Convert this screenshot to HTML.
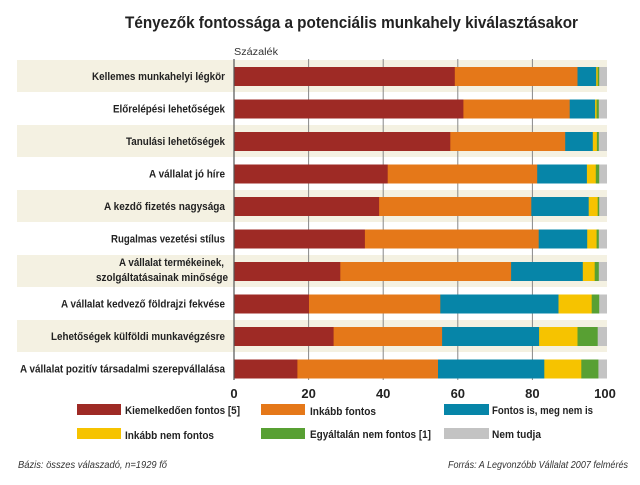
<!DOCTYPE html>
<html><head><meta charset="utf-8"><style>
body{margin:0;background:#fff}
text{font-family:"Liberation Sans",sans-serif}
</style></head><body>
<svg width="640" height="480" xmlns="http://www.w3.org/2000/svg">
<text x="125" y="28" textLength="453" lengthAdjust="spacingAndGlyphs" font-size="17" font-weight="bold" fill="#222">Tényezők fontossága a potenciális munkahely kiválasztásakor</text>
<text x="234" y="55" font-size="10" textLength="44" lengthAdjust="spacingAndGlyphs" fill="#333">Százalék</text>
<g fill="#f4f1e2">
<rect x="17" y="60" width="590" height="32"/>
<rect x="17" y="125" width="590" height="32"/>
<rect x="17" y="190" width="590" height="32"/>
<rect x="17" y="255" width="590" height="32"/>
<rect x="17" y="320" width="590" height="32"/>
</g>
<g stroke="#888" stroke-width="1">
<line x1="308.6" y1="59" x2="308.6" y2="380"/><line x1="383.2" y1="59" x2="383.2" y2="380"/><line x1="457.8" y1="59" x2="457.8" y2="380"/><line x1="532.4" y1="59" x2="532.4" y2="380"/>
</g>
<g id="bars">
<g transform="translate(234,67)"><rect width="373" height="19" fill="#c3c3c3"/><rect width="365.2" height="19" fill="#58a033"/><rect width="363.7" height="19" fill="#f6c300"/><rect width="362.2" height="19" fill="#0685a8"/><rect width="343.5" height="19" fill="#e57819"/><rect width="220.8" height="19" fill="#9e2a25"/></g>
<g transform="translate(234,99.5)"><rect width="373" height="19" fill="#c3c3c3"/><rect width="364.8" height="19" fill="#58a033"/><rect width="362.6" height="19" fill="#f6c300"/><rect width="361.1" height="19" fill="#0685a8"/><rect width="335.7" height="19" fill="#e57819"/><rect width="229.4" height="19" fill="#9e2a25"/></g>
<g transform="translate(234,132)"><rect width="373" height="19" fill="#c3c3c3"/><rect width="364.8" height="19" fill="#58a033"/><rect width="362.9" height="19" fill="#f6c300"/><rect width="358.8" height="19" fill="#0685a8"/><rect width="331.2" height="19" fill="#e57819"/><rect width="216.3" height="19" fill="#9e2a25"/></g>
<g transform="translate(234,164.5)"><rect width="373" height="19" fill="#c3c3c3"/><rect width="365.2" height="19" fill="#58a033"/><rect width="361.8" height="19" fill="#f6c300"/><rect width="352.9" height="19" fill="#0685a8"/><rect width="303.2" height="19" fill="#e57819"/><rect width="153.7" height="19" fill="#9e2a25"/></g>
<g transform="translate(234,197)"><rect width="373" height="19" fill="#c3c3c3"/><rect width="365.2" height="19" fill="#58a033"/><rect width="363.7" height="19" fill="#f6c300"/><rect width="354.7" height="19" fill="#0685a8"/><rect width="297.3" height="19" fill="#e57819"/><rect width="145.1" height="19" fill="#9e2a25"/></g>
<g transform="translate(234,229.5)"><rect width="373" height="19" fill="#c3c3c3"/><rect width="364.8" height="19" fill="#58a033"/><rect width="362.6" height="19" fill="#f6c300"/><rect width="353.2" height="19" fill="#0685a8"/><rect width="304.7" height="19" fill="#e57819"/><rect width="130.9" height="19" fill="#9e2a25"/></g>
<g transform="translate(234,262)"><rect width="373" height="19" fill="#c3c3c3"/><rect width="364.8" height="19" fill="#58a033"/><rect width="360.7" height="19" fill="#f6c300"/><rect width="348.8" height="19" fill="#0685a8"/><rect width="277.1" height="19" fill="#e57819"/><rect width="106.3" height="19" fill="#9e2a25"/></g>
<g transform="translate(234,294.5)"><rect width="373" height="19" fill="#c3c3c3"/><rect width="365.2" height="19" fill="#58a033"/><rect width="357.7" height="19" fill="#f6c300"/><rect width="324.5" height="19" fill="#0685a8"/><rect width="206.3" height="19" fill="#e57819"/><rect width="75" height="19" fill="#9e2a25"/></g>
<g transform="translate(234,327)"><rect width="373" height="19" fill="#c3c3c3"/><rect width="363.7" height="19" fill="#58a033"/><rect width="343.5" height="19" fill="#f6c300"/><rect width="305.1" height="19" fill="#0685a8"/><rect width="208.1" height="19" fill="#e57819"/><rect width="99.6" height="19" fill="#9e2a25"/></g>
<g transform="translate(234,359.5)"><rect width="373" height="19" fill="#c3c3c3"/><rect width="364.4" height="19" fill="#58a033"/><rect width="347.3" height="19" fill="#f6c300"/><rect width="310.3" height="19" fill="#0685a8"/><rect width="204" height="19" fill="#e57819"/><rect width="63.4" height="19" fill="#9e2a25"/></g>
</g>
<g font-size="11" font-weight="bold" fill="#222" lengthAdjust="spacingAndGlyphs">
<text x="92" y="80" textLength="133" lengthAdjust="spacingAndGlyphs">Kellemes munkahelyi légkör</text>
<text x="113" y="112.5" textLength="112" lengthAdjust="spacingAndGlyphs">Előrelépési lehetőségek</text>
<text x="126" y="145" textLength="99" lengthAdjust="spacingAndGlyphs">Tanulási lehetőségek</text>
<text x="149" y="177.5" textLength="76" lengthAdjust="spacingAndGlyphs">A vállalat jó híre</text>
<text x="104" y="210" textLength="121" lengthAdjust="spacingAndGlyphs">A kezdő fizetés nagysága</text>
<text x="111" y="242.5" textLength="114" lengthAdjust="spacingAndGlyphs">Rugalmas vezetési stílus</text>
<text x="119" y="266" textLength="105" lengthAdjust="spacingAndGlyphs">A vállalat termékeinek,</text>
<text x="96" y="281" textLength="132" lengthAdjust="spacingAndGlyphs">szolgáltatásainak minősége</text>
<text x="61" y="307.5" textLength="164" lengthAdjust="spacingAndGlyphs">A vállalat kedvező földrajzi fekvése</text>
<text x="51" y="340" textLength="174" lengthAdjust="spacingAndGlyphs">Lehetőségek külföldi munkavégzésre</text>
<text x="20" y="372.5" textLength="205" lengthAdjust="spacingAndGlyphs">A vállalat pozitív társadalmi szerepvállalása</text>
</g>
<line x1="234" y1="59" x2="234" y2="380" stroke="#555" stroke-width="1.2"/>
<g font-size="13" font-weight="bold" fill="#222" text-anchor="middle">
<text x="234" y="398">0</text><text x="308.6" y="398">20</text><text x="383.2" y="398">40</text><text x="457.8" y="398">60</text><text x="532.4" y="398">80</text><text x="605" y="398">100</text>
</g>
<g font-size="11" font-weight="bold" fill="#222">
<rect x="77" y="404" width="44" height="11" fill="#9e2a25"/><text x="125" y="414" textLength="115" lengthAdjust="spacingAndGlyphs">Kiemelkedően fontos [5]</text>
<rect x="261" y="404" width="44" height="11" fill="#e57819"/><text x="310" y="415" textLength="66" lengthAdjust="spacingAndGlyphs">Inkább fontos</text>
<rect x="444" y="404" width="45" height="11" fill="#0685a8"/><text x="492" y="414" textLength="101" lengthAdjust="spacingAndGlyphs">Fontos is, meg nem is</text>
<rect x="77" y="428" width="44" height="11" fill="#f6c300"/><text x="125" y="439" textLength="89" lengthAdjust="spacingAndGlyphs">Inkább nem fontos</text>
<rect x="261" y="428" width="44" height="11" fill="#58a033"/><text x="310" y="438" textLength="121" lengthAdjust="spacingAndGlyphs">Egyáltalán nem fontos [1]</text>
<rect x="444" y="428" width="45" height="11" fill="#c3c3c3"/><text x="492" y="438" textLength="49" lengthAdjust="spacingAndGlyphs">Nem tudja</text>
</g>
<g font-size="10" font-style="italic" fill="#333">
<text x="18" y="468" textLength="149" lengthAdjust="spacingAndGlyphs">Bázis: összes válaszadó,   n=1929 fő</text>
<text x="448" y="468" textLength="180" lengthAdjust="spacingAndGlyphs">Forrás: A Legvonzóbb Vállalat 2007 felmérés</text>
</g>
</svg>
</body></html>
